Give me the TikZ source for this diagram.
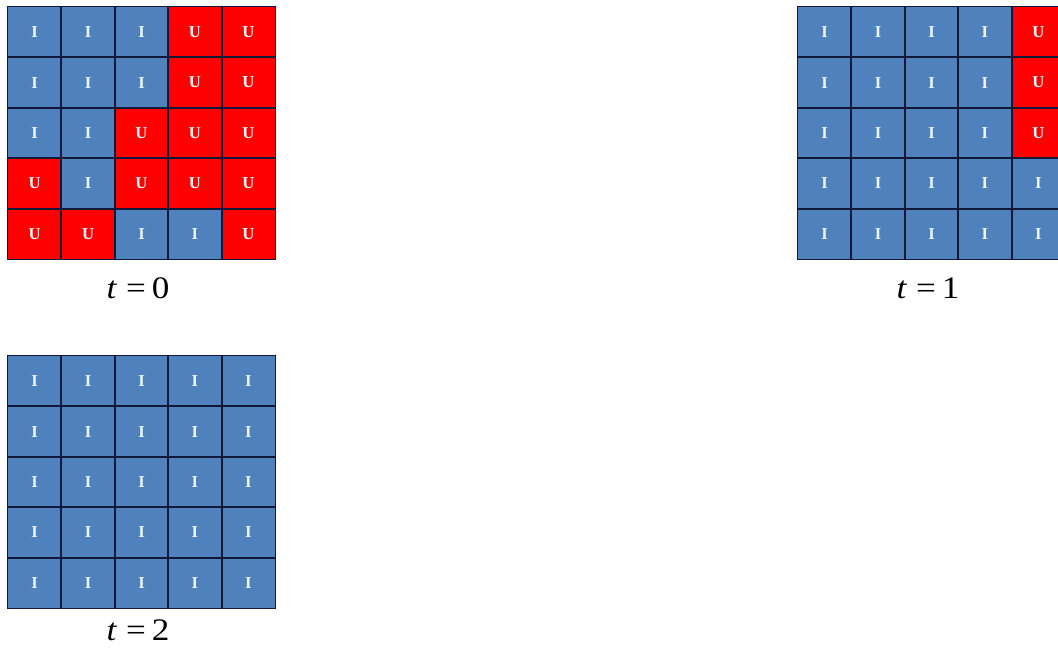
\documentclass[tikz,border=0pt]{standalone}
\usepackage{fontspec}
\setmainfont{Liberation Serif}
\usepackage{tikz}
\usetikzlibrary{positioning}

\definecolor{cellblue}{RGB}{79,129,189}
\definecolor{cellred}{RGB}{255,0,0}
\definecolor{gridline}{RGB}{18,24,58}
\definecolor{lettercol}{RGB}{236,246,250}

\tikzset{
	cell/.style={rectangle,
		minimum width=40.05pt, minimum height=37.8pt, inner sep=0pt,
		text=lettercol, font=\fontsize{12.5}{13}\selectfont\bfseries},
	cellI/.style={cell, fill=cellblue},
	cellU/.style={cell, fill=cellred},
	cellrule/.style={draw=gridline, line width=1pt},
	steplabel/.style={anchor=base, inner sep=0pt, xscale=1.12, transform shape,
		font=\fontsize{23.5}{25}\selectfont}
}

% grid: name, left x, top y, rows of states
\newcommand{\stategrid}[4]{%
	\foreach \row [count=\r from 0] in {#4} {
		\foreach \s [count=\c from 0] in \row {
			\node[cell\s] (#1-\r-\c) at (#2+26.7+53.4*\c, #3+25.2+50.4*\r) {\s};
		}
	}
	% borders after the fills
	\foreach \r in {0,...,4} {
		\foreach \c in {0,...,4} {
			\draw[cellrule] (#1-\r-\c.north west) rectangle (#1-\r-\c.south east);
		}
	}
}

\begin{document}
\begin{tikzpicture}[x=0.75pt, y=-0.75pt]
	
	% --- 1. 画布范围 ---
	\clip (0,0) rectangle (1058,657);
	\fill[white] (0,0) rectangle (1058,657);
	
	% --- 2. t = 0 ---
	\stategrid{gA}{8}{7}{{I,I,I,U,U},{I,I,I,U,U},{I,I,U,U,U},{U,I,U,U,U},{U,U,I,I,U}}
	
	% --- 3. t = 1 ---
	\stategrid{gB}{798}{7}{{I,I,I,I,U},{I,I,I,I,U},{I,I,I,I,U},{I,I,I,I,I},{I,I,I,I,I}}
	
	% --- 4. t = 2 ---
	\stategrid{gC}{8}{356}{{I,I,I,I,I},{I,I,I,I,I},{I,I,I,I,I},{I,I,I,I,I},{I,I,I,I,I}}
	
	% --- 5. 标注 ---
	\node[steplabel] (tA) at (138,298) {\textit{t}\hspace{6pt}=\hspace{4pt}0};
	\node[steplabel] (tB) at (928,298) {\textit{t}\hspace{6pt}=\hspace{4pt}1};
	\node[steplabel] (tC) at (138,640) {\textit{t}\hspace{6pt}=\hspace{4pt}2};
	
\end{tikzpicture}
\end{document}
